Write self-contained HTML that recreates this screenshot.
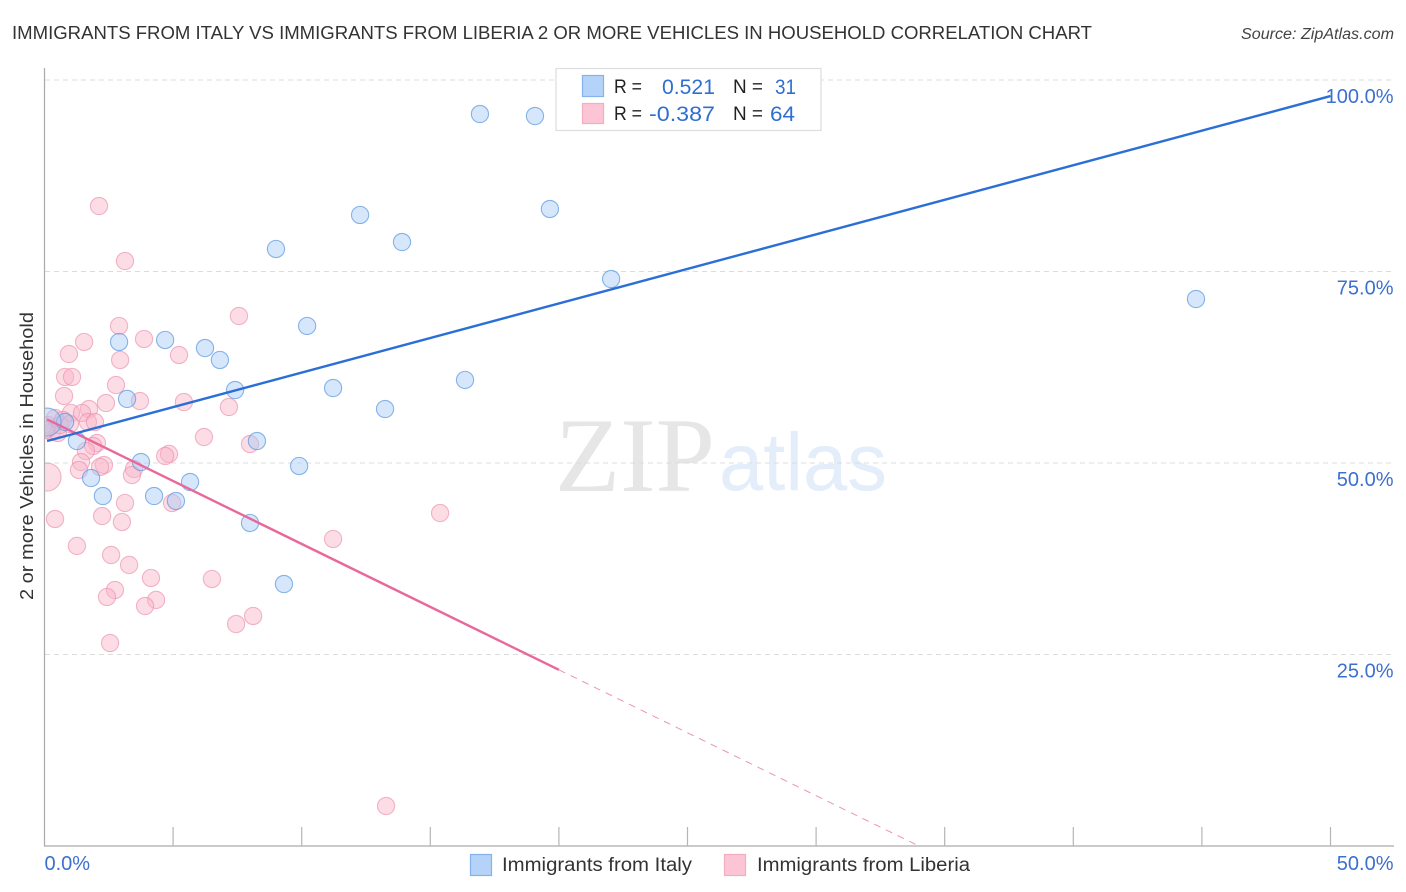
<!DOCTYPE html>
<html lang="en">
<head>
<meta charset="utf-8">
<title>Immigrants from Italy vs Immigrants from Liberia Correlation Chart</title>
<style>
html,body{margin:0;padding:0;background:#fff;}
svg{display:block;font-family:"Liberation Sans",sans-serif;}
</style>
</head>
<body>
<svg id="chart" xmlns="http://www.w3.org/2000/svg" width="1406" height="892" viewBox="0 0 1406 892">
  <defs><clipPath id="plot-clip"><rect x="45" y="60" width="1350" height="786"/></clipPath></defs>
  <rect x="0" y="0" width="1406" height="892" fill="#fff"/>
  <text x="12" y="39" font-size="18.5" fill="#333" textLength="1080" lengthAdjust="spacingAndGlyphs">IMMIGRANTS FROM ITALY VS IMMIGRANTS FROM LIBERIA 2 OR MORE VEHICLES IN HOUSEHOLD CORRELATION CHART</text>
  <text x="1241" y="39" font-size="15.5" font-style="italic" fill="#444" textLength="153" lengthAdjust="spacingAndGlyphs">Source: ZipAtlas.com</text>
  <text x="555" y="491" font-size="106" font-family="'Liberation Serif',serif" fill="#e6e6e6" textLength="160" lengthAdjust="spacingAndGlyphs">ZIP</text>
  <text x="719" y="490" font-size="82" fill="#e4edfa" textLength="168" lengthAdjust="spacingAndGlyphs">atlas</text>
  <g id="grid"></g>
  <g id="axes"></g>
  <g id="points" clip-path="url(#plot-clip)"></g>
  <g id="lines"></g>
  <text transform="translate(33,456) rotate(-90)" text-anchor="middle" font-size="18.5" fill="#333" textLength="288" lengthAdjust="spacingAndGlyphs">2 or more Vehicles in Household</text>
  <g>
    <rect x="556" y="68.5" width="265" height="62" fill="#fff" stroke="#ddd" stroke-width="1.2"/>
    <rect x="582.5" y="75.5" width="21" height="21" fill="#b5d3f8" stroke="#85b2ea" stroke-width="1.2"/>
    <rect x="582.5" y="103.5" width="21" height="20" fill="#fcc5d6" stroke="#f4aec4" stroke-width="1.2"/>
    <text x="614" y="93" font-size="19" fill="#222" textLength="28" lengthAdjust="spacingAndGlyphs">R =</text>
    <text x="662" y="94" font-size="21" fill="#2f6fd0" textLength="53" lengthAdjust="spacingAndGlyphs">0.521</text>
    <text x="733" y="93" font-size="19" fill="#222" textLength="30" lengthAdjust="spacingAndGlyphs">N =</text>
    <text x="775" y="94" font-size="21" fill="#2f6fd0" textLength="21" lengthAdjust="spacingAndGlyphs">31</text>
    <text x="614" y="120" font-size="19" fill="#222" textLength="28" lengthAdjust="spacingAndGlyphs">R =</text>
    <text x="649" y="121" font-size="21" fill="#2f6fd0" textLength="66" lengthAdjust="spacingAndGlyphs">-0.387</text>
    <text x="733" y="120" font-size="19" fill="#222" textLength="30" lengthAdjust="spacingAndGlyphs">N =</text>
    <text x="770" y="121" font-size="21" fill="#2f6fd0" textLength="25" lengthAdjust="spacingAndGlyphs">64</text>
  </g>
  <g>
    <rect x="470.5" y="854.5" width="21" height="21" fill="#b5d3f8" stroke="#85b2ea" stroke-width="1.2"/>
    <text x="502" y="871" font-size="19" fill="#333" textLength="190" lengthAdjust="spacingAndGlyphs">Immigrants from Italy</text>
    <rect x="724.5" y="854.5" width="21" height="21" fill="#fcc5d6" stroke="#f4aec4" stroke-width="1.2"/>
    <text x="757" y="871" font-size="19" fill="#333" textLength="213" lengthAdjust="spacingAndGlyphs">Immigrants from Liberia</text>
  </g>
</svg>
<script>
const xTickValues = [0, 5, 10, 15, 20, 25, 30, 35, 40, 45, 50];
const yTickValues = [25, 50, 75, 100];
const yTickLabels = ['25.0%', '50.0%', '75.0%', '100.0%'];
const xEndValues = [0, 50];
const xEndLabels = ['0.0%', '50.0%'];

const italyX = [16.93,19.07,12.27,19.65,9.00,13.90,22.03,44.77,10.21,4.69,2.90,6.24,6.82,7.41,11.22,16.35,13.24,3.21,8.26,1.26,3.75,9.90,5.66,1.81,2.27,4.26,5.11,7.99,9.31,0.80,0.10];
const italyY = [95.56,95.30,82.38,83.16,77.94,78.85,74.02,71.41,67.89,66.06,65.80,65.01,63.45,59.53,59.79,60.84,57.05,58.36,52.87,52.87,50.13,49.61,47.52,48.04,45.69,45.69,45.04,42.17,34.20,55.35,55.35];
const italyLargeSample = [30];

const liberiaX = [2.12,3.13,7.56,2.90,1.54,3.87,0.95,2.94,5.23,0.80,1.07,2.78,0.76,3.71,2.39,5.42,7.17,1.73,1.03,1.46,1.69,1.96,6.20,2.04,1.89,7.99,1.61,4.84,4.69,1.42,2.31,2.16,1.34,3.48,3.40,0.10,3.13,4.96,2.24,15.38,0.41,3.01,11.22,1.26,2.59,3.29,4.14,6.51,2.74,2.43,4.34,3.91,8.11,7.45,2.55,13.28,0.29,0.52,0.14,0.60,0.41,0.72,0.99,0.06];
const liberiaY = [83.55,76.37,69.19,67.89,65.80,66.19,64.23,63.45,64.10,61.23,61.23,60.18,58.75,58.09,57.83,57.96,57.31,57.05,56.53,56.53,55.35,55.35,53.39,52.61,52.22,52.48,51.57,51.18,50.91,50.13,49.74,49.48,49.09,49.22,48.43,48.17,44.78,44.78,43.08,43.47,42.69,42.30,40.08,39.17,37.99,36.69,34.99,34.86,33.42,32.51,32.12,31.33,30.03,28.98,26.50,5.22,54.05,53.92,54.96,54.96,55.87,55.61,55.09,54.31];
const liberiaLargeSample = [35];

const italyTrendX = [0.1, 50];
const italyTrendY = [52.87, 97.9];
const liberiaTrendX = [0.1, 20];
const liberiaTrendY = [55.7, 23];
const liberiaExtrapolationX = [20, 34];
const liberiaExtrapolationY = [23, 0];

const NS = 'http://www.w3.org/2000/svg';
function sx(v){ return 44.5 + v * 25.72; }
function sy(v){ return 846 - v * 7.66; }
function make(tag, attrs, parent){
  const el = document.createElementNS(NS, tag);
  for (const k in attrs) el.setAttribute(k, attrs[k]);
  parent.appendChild(el);
  return el;
}
const grid = document.getElementById('grid');
const axes = document.getElementById('axes');
const points = document.getElementById('points');
const lines = document.getElementById('lines');

yTickValues.forEach(function(v, i){
  const g = make('line', {x1:45, x2:1393, y1:sy(v), y2:sy(v), stroke:'#dcdcdc', 'stroke-width':1, 'stroke-dasharray':'5 4'}, grid);
  
  
  const t = make('text', {x:1393.5, y:sy(v)+23, 'text-anchor':'end', 'font-size':20, fill:'#3c70cf'}, axes);
  
  
  t.textContent = yTickLabels[i];
});

const yAxis = make('line', {x1:44.5, x2:44.5, y1:68, y2:846.5, stroke:'#aaa', 'stroke-width':1.2}, axes);


const xAxis = make('line', {x1:44, x2:1394, y1:846, y2:846, stroke:'#aaa', 'stroke-width':1.2}, axes);



xTickValues.forEach(function(v){
  if (v === 0) return;
  const t = make('line', {x1:sx(v), x2:sx(v), y1:827, y2:846, stroke:'#b5b5b5', 'stroke-width':1.2}, axes);
  
  
});
xEndValues.forEach(function(v, i){
  const t = make('text', {x: i === 0 ? sx(v) : 1393.5, y:870, 'text-anchor': i === 0 ? 'start' : 'end', 'font-size':20, fill:'#3c70cf'}, axes);
  
  
  t.textContent = xEndLabels[i];
});

liberiaX.forEach(function(v, i){
  const c = make('circle', {cx:sx(v), cy:sy(liberiaY[i]), r: liberiaLargeSample.indexOf(i) >= 0 ? 14 : 8.6, fill:'#f8b4c8', 'fill-opacity':0.45, stroke:'#ec8fac', 'stroke-opacity':0.65, 'stroke-width':1.1}, points);
  
  
});
italyX.forEach(function(v, i){
  const c = make('circle', {cx:sx(v), cy:sy(italyY[i]), r: italyLargeSample.indexOf(i) >= 0 ? 14 : 8.6, fill:'#a5c9f6', 'fill-opacity':0.45, stroke:'#5a96e0', 'stroke-opacity':0.7, 'stroke-width':1.1}, points);
  
  
});

const extrapolation = make('line', {x1:sx(liberiaExtrapolationX[0]), y1:sy(liberiaExtrapolationY[0]), x2:sx(liberiaExtrapolationX[1]), y2:sy(liberiaExtrapolationY[1]), stroke:'#ee92b4', 'stroke-width':1, 'stroke-dasharray':'7 6'}, lines);


const liberiaTrend = make('line', {x1:sx(liberiaTrendX[0]), y1:sy(liberiaTrendY[0]), x2:sx(liberiaTrendX[1]), y2:sy(liberiaTrendY[1]), stroke:'#e8689a', 'stroke-width':2.4}, lines);


const italyTrend = make('line', {x1:sx(italyTrendX[0]), y1:sy(italyTrendY[0]), x2:sx(italyTrendX[1]), y2:sy(italyTrendY[1]), stroke:'#2b6fd6', 'stroke-width':2.4}, lines);


</script>
</body>
</html>
